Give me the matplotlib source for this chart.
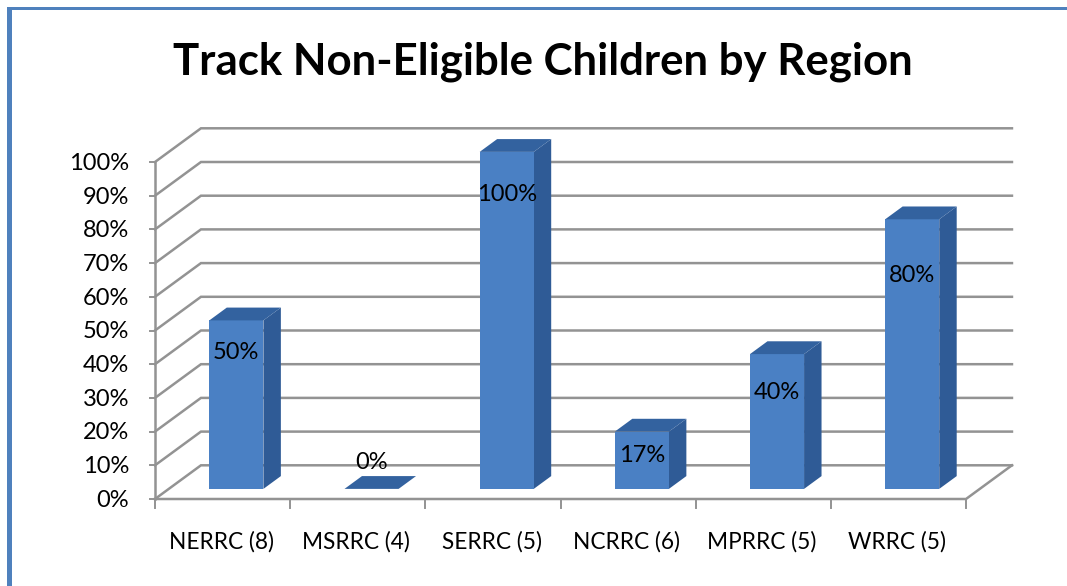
import numpy as np
import matplotlib
matplotlib.use('Agg')
import matplotlib.pyplot as plt
from matplotlib.patches import Polygon, Rectangle

plt.rcParams['font.family'] = ['Lato', 'DejaVu Sans']

# ---------- data ----------
regions = ['NERRC (8)', 'MSRRC (4)', 'SERRC (5)', 'NCRRC (6)', 'MPRRC (5)', 'WRRC (5)']
values = [50, 0, 100, 17, 40, 80]
value_labels = ['50%', '0%', '100%', '17%', '40%', '80%']
label_heights = [43.4, 10.7, 90.4, 13, 31.7, 66.4]
y_ticks = [0, 10, 20, 30, 40, 50, 60, 70, 80, 90, 100]

# ---------- fake 3D: depth shears x and y ----------
DEPTH_X = 0.34   # categories per unit of depth
DEPTH_Y = 10.0   # percent per unit of depth
BAR_W = 0.40
D0, D1 = 0.30, 0.68

GRID = '#939393'
FRONT = '#4a80c4'
SIDE = '#2f5b96'
TOP = '#33629f'
FRAME = '#4f81bd'


def pt(x, y, d=0.0):
    return (x + DEPTH_X * d, y + DEPTH_Y * d)


fig = plt.figure(figsize=(10.67, 5.86), dpi=100)
ax = fig.add_axes([155 / 1067, 87 / 586, 811 / 1067, 337 / 586])
n = len(regions)
ax.set_xlim(0, n)
ax.set_ylim(0, 100)
ax.axis('off')

# walls
for v in y_ticks:
    ax.plot(*zip(pt(0, v), pt(0, v, 1), pt(n, v, 1)), color=GRID, lw=1.8,
            clip_on=False, zorder=1, solid_joinstyle='miter')
    ax.plot([-0.035, 0], [v, v], color=GRID, lw=1.4, clip_on=False, zorder=1)
    ax.text(-0.19, v - 0.4, f'{v}%', ha='right', va='center', fontsize=17, color='black')
ax.plot([0, 0], [0, 100], color=GRID, lw=1.8, clip_on=False, zorder=1)

# floor
ax.plot(*zip(pt(0, 0), pt(n, 0), pt(n, 0, 1)), color=GRID, lw=1.8,
        clip_on=False, zorder=2, solid_joinstyle='miter')
for i in range(n + 1):
    ax.plot([i, i], [0, -2.6], color=GRID, lw=1.4, clip_on=False, zorder=2)

# bars
for i, v in enumerate(values):
    x0 = i + 0.5 - BAR_W / 2
    x1 = x0 + BAR_W
    front = [pt(x0, v, D0), pt(x1, v, D0), pt(x1, 0, D0), pt(x0, 0, D0)]
    side = [pt(x1, 0, D0), pt(x1, v, D0), pt(x1, v, D1), pt(x1, 0, D1)]
    top = [pt(x0, v, D0), pt(x1, v, D0), pt(x1, v, D1), pt(x0, v, D1)]
    if v > 0:
        ax.add_patch(Polygon(side, closed=True, fc=SIDE, ec='none', clip_on=False, zorder=3))
        ax.add_patch(Polygon(front, closed=True, fc=FRONT, ec='none', clip_on=False, zorder=4))
    ax.add_patch(Polygon(top, closed=True, fc=TOP, ec='none', clip_on=False, zorder=4))
    lx = (x0 + x1) / 2 + DEPTH_X * D0
    ax.text(lx, label_heights[i], value_labels[i], ha='center', va='center',
            fontsize=17, color='black', zorder=6)

# category labels
for i, name in enumerate(regions):
    ax.text(i + 0.49, -12.6, name, ha='center', va='center', fontsize=16.3, color='black')

fig.text(543 / 1067, 1 - 62 / 586, 'Track Non-Eligible Children by Region', ha='center',
         va='center', fontsize=31.5, fontweight='bold', color='black')

# slide frame
fig.add_artist(Rectangle((7 / 1067, 0), 5 / 1067, 1 - 7 / 586, transform=fig.transFigure,
                         fc=FRAME, ec='none'))
fig.add_artist(Rectangle((7 / 1067, 1 - 10 / 586), 1060 / 1067, 3 / 586, transform=fig.transFigure,
                         fc=FRAME, ec='none'))

fig.savefig('out.png', dpi=100)
